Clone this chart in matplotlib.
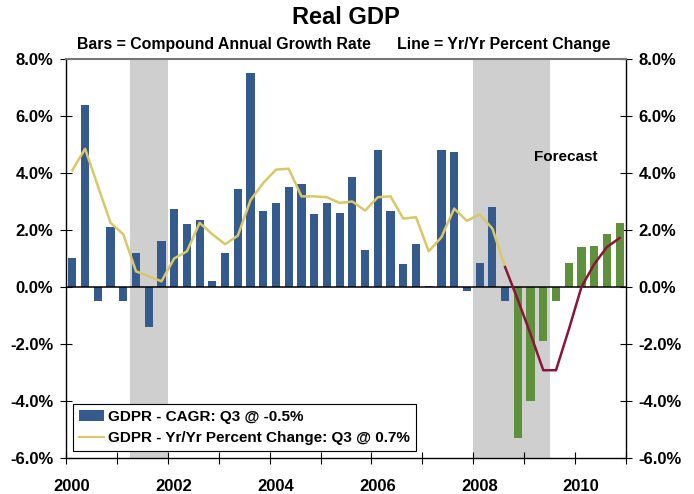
import numpy as np
import matplotlib
matplotlib.use("Agg")
import matplotlib.pyplot as plt
import matplotlib.transforms as mtransforms
from matplotlib.font_manager import FontProperties
from matplotlib.patches import Patch
from matplotlib.lines import Line2D

# quarterly data, 2000Q1 .. 2010Q4
start_year = 2000
cagr_actual = [1.0, 6.4, -0.5, 2.1, -0.5, 1.2, -1.4, 1.6,
               2.75, 2.2, 2.35, 0.2, 1.2, 3.45, 7.5, 2.65,
               2.95, 3.5, 3.6, 2.55, 2.95, 2.6, 3.85, 1.3,
               4.8, 2.65, 0.8, 1.5, 0.05, 4.8, 4.75, -0.15,
               0.85, 2.8, -0.5]
cagr_forecast = [-5.3, -4.0, -1.9, -0.5, 0.85, 1.4, 1.45, 1.85, 2.25]

yoy_actual = [4.1, 4.85, 3.55, 2.25, 1.85, 0.55, 0.38, 0.2,
              1.0, 1.25, 2.25, 1.85, 1.5, 1.8, 3.05, 3.65,
              4.12, 4.15, 3.18, 3.18, 3.15, 2.95, 3.0, 2.68,
              3.15, 3.18, 2.4, 2.45, 1.25, 1.75, 2.75, 2.32,
              2.55, 2.05, 0.7]
yoy_forecast = [0.7, -0.45, -1.65, -2.92, -2.92, -1.5, 0.0, 0.8, 1.4, 1.72]

recessions = [(2001.25, 2002.0), (2008.0, 2009.5)]

blue = "#355a8d"
green = "#5f913c"
yellow = "#d8c868"
maroon = "#8a1538"
shade = "#cfcfcf"

n_act = len(cagr_actual)
n_all = n_act + len(cagr_forecast)
x_all = start_year + (np.arange(n_all) + 0.5) / 4.0
x_act = x_all[:n_act]
x_fc = x_all[n_act:]

fig = plt.figure(figsize=(6.94, 4.94), dpi=100)
ax = fig.add_axes([66 / 694, 1 - 458 / 494, 560 / 694, 399 / 494])

for a, b in recessions:
    ax.axvspan(a, b, color=shade, lw=0, zorder=0)

bw = 0.16
ax.bar(x_act, cagr_actual, width=bw, color=blue, zorder=2)
ax.bar(x_fc, cagr_forecast, width=bw, color=green, zorder=2)
ax.axhline(0, color="black", lw=1.1, zorder=3)

ax.plot(x_act, yoy_actual, color=yellow, lw=1.8, zorder=4)
ax.plot(x_all[n_act - 1:], yoy_forecast, color=maroon, lw=1.8, zorder=4)

yt = np.arange(-6, 8.1, 2)
ax.set_xlim(2000, 2011)
ax.set_ylim(-6, 8)
ax.set_yticks(yt)
ax.set_yticklabels([f"{v:.1f}%" for v in yt])
ax.set_xticks(np.arange(2000, 2012, 1))
ax.set_xticklabels([str(y) if y % 2 == 0 and y < 2011 else "" for y in range(2000, 2012)])

lab_font = FontProperties(family="Liberation Sans", weight="bold", size=12)
ax.tick_params(axis="y", direction="inout", length=8, width=0.8,
               left=True, right=True, labelleft=True, labelright=True, pad=5)
ax.tick_params(axis="x", direction="inout", length=8, width=0.8, pad=11)
for t in ax.yaxis.get_major_ticks():
    t.label1.set_fontproperties(lab_font)
    t.label2.set_fontproperties(lab_font)
shift = mtransforms.ScaledTranslation(6 / 100, 0, fig.dpi_scale_trans)
for t in ax.xaxis.get_major_ticks():
    t.label1.set_fontproperties(lab_font)
    t.label1.set_transform(t.label1.get_transform() + shift)

ax.spines["top"].set_color("#777777")
ax.spines["top"].set_linewidth(1.5)
for s in ["left", "right", "bottom"]:
    ax.spines[s].set_color("black")
    ax.spines[s].set_linewidth(1.0)

ax.text(2009.82, 4.56, "Forecast", fontsize=11, fontweight="bold",
        family="Liberation Sans", ha="center", va="center")

handles = [Patch(facecolor=blue, edgecolor="none"),
           Line2D([0], [0], color=yellow, lw=1.5)]
labels = ["GDPR - CAGR: Q3 @ -0.5%", "GDPR - Yr/Yr Percent Change: Q3 @ 0.7%"]
leg = ax.legend(handles, labels, loc="lower left", bbox_to_anchor=(0.0125, 0.0175),
                borderaxespad=0, fancybox=False, framealpha=1, edgecolor="black",
                prop=dict(family="Liberation Sans", weight="bold", size=11),
                handlelength=1.6, handletextpad=0.3, labelspacing=0.45,
                borderpad=0.4)
leg.get_frame().set_linewidth(0.8)
leg.set_zorder(5)

fig.text(346 / 694, 1 - 17 / 494, "Real GDP", ha="center", va="center",
         fontsize=17, fontweight="bold", family="Liberation Sans")
fig.text(344 / 694, 1 - 44 / 494,
         "Bars = Compound Annual Growth Rate      Line = Yr/Yr Percent Change",
         ha="center", va="center", fontsize=11.4, fontweight="bold", family="Liberation Sans")

fig.savefig("out.png", dpi=100)
